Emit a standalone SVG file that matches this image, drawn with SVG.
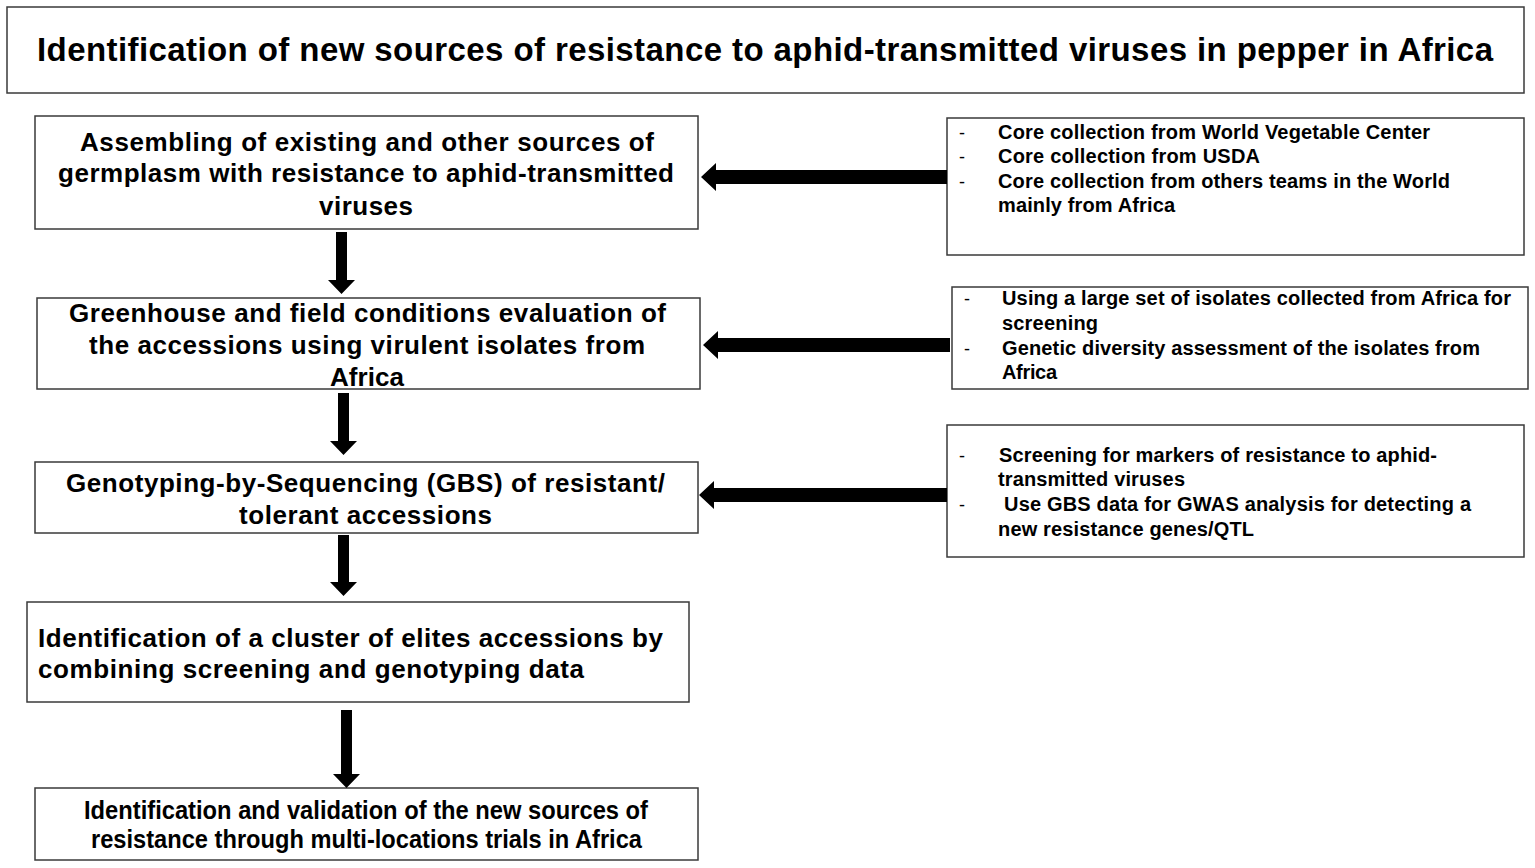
<svg xmlns="http://www.w3.org/2000/svg" width="1535" height="868" viewBox="0 0 1535 868">
<style>
.box{fill:#fff;stroke:#3a3a3a;stroke-width:1.5}
.t{font-family:"Liberation Sans",Arial,sans-serif;font-weight:bold;fill:#000}
.main{font-size:26px}
.side{font-size:20px}
.dash{font-family:"Liberation Sans",Arial,sans-serif;font-size:18px;fill:#000}
.title{font-size:33px}
.arr{fill:#000}
</style>
<rect width="1535" height="868" fill="#fff"/>
<g id="title">
<rect class="box" x="7" y="7" width="1517" height="86"/>
<text class="t title" x="37" y="61" textLength="1456">Identification of new sources of resistance to aphid-transmitted viruses in pepper in Africa</text>
</g>
<g id="step1">
<rect class="box" x="35" y="116" width="663" height="113"/>
<text class="t main" x="80" y="151" textLength="574">Assembling of existing and other sources of</text>
<text class="t main" x="58" y="182" textLength="616">germplasm with  resistance to aphid-transmitted</text>
<text class="t main" x="319" y="215" textLength="94">viruses</text>
</g>
<g id="step2">
<rect class="box" x="37" y="298" width="663" height="91"/>
<text class="t main" x="69" y="322" textLength="597">Greenhouse and field conditions evaluation of</text>
<text class="t main" x="89" y="354" textLength="556">the accessions using virulent isolates from</text>
<text class="t main" x="330" y="386" textLength="74">Africa</text>
</g>
<g id="step3">
<rect class="box" x="35" y="462" width="663" height="71"/>
<text class="t main" x="66" y="492" textLength="599">Genotyping-by-Sequencing (GBS) of resistant/</text>
<text class="t main" x="239" y="524" textLength="253">tolerant accessions</text>
</g>
<g id="step4">
<rect class="box" x="27" y="602" width="662" height="100"/>
<text class="t main" x="38" y="647" textLength="625">Identification  of a cluster of elites accessions by</text>
<text class="t main" x="38" y="678" textLength="546">combining  screening and genotyping  data</text>
</g>
<g id="step5">
<rect class="box" x="35" y="788" width="663" height="72"/>
<text class="t main" x="84" y="819" textLength="564" lengthAdjust="spacingAndGlyphs">Identification and validation of the new sources of</text>
<text class="t main" x="91" y="848" textLength="551" lengthAdjust="spacingAndGlyphs">resistance through multi-locations trials in Africa</text>
</g>
<g id="side1">
<rect class="box" x="947" y="118" width="577" height="137"/>
<text class="dash" x="959" y="139">-</text>
<text class="t side" x="998" y="139" textLength="432">Core collection from World Vegetable Center</text>
<text class="dash" x="959" y="163">-</text>
<text class="t side" x="998" y="163" textLength="262">Core collection from USDA</text>
<text class="dash" x="959" y="188">-</text>
<text class="t side" x="998" y="188" textLength="452">Core collection from others teams in the World</text>
<text class="t side" x="998" y="212" textLength="177">mainly from Africa</text>
</g>
<g id="side2">
<rect class="box" x="952" y="287" width="576" height="102"/>
<text class="dash" x="964" y="305">-</text>
<text class="t side" x="1002" y="305" textLength="509">Using a large set of isolates collected from Africa for</text>
<text class="t side" x="1002" y="330" textLength="96">screening</text>
<text class="dash" x="964" y="355">-</text>
<text class="t side" x="1002" y="355" textLength="478">Genetic diversity assessment of the isolates from</text>
<text class="t side" x="1002" y="379" textLength="55">Africa</text>
</g>
<g id="side3">
<rect class="box" x="947" y="425" width="577" height="132"/>
<text class="dash" x="959" y="462">-</text>
<text class="t side" x="999" y="462" textLength="438">Screening for markers of resistance to aphid-</text>
<text class="t side" x="998" y="486" textLength="187">transmitted viruses</text>
<text class="dash" x="959" y="511">-</text>
<text class="t side" x="1004" y="511" textLength="467">Use GBS data for GWAS analysis for detecting a</text>
<text class="t side" x="998" y="536" textLength="256">new resistance genes/QTL</text>
</g>
<g id="connectors">
<polygon class="arr" points="336,232 347,232 347,280 355,280 341.5,294 328,280 336,280"/>
<polygon class="arr" points="338,393 349,393 349,441 357,441 343.5,455 330,441 338,441"/>
<polygon class="arr" points="338,535 349,535 349,582 357,582 343.5,596 330,582 338,582"/>
<polygon class="arr" points="341,710 352,710 352,774 360,774 346.5,788 333,774 341,774"/>
<polygon class="arr" points="947,170 947,184 716,184 716,191 701,177 716,163 716,170"/>
<polygon class="arr" points="950,338 950,352 718,352 718,359 703,345 718,331 718,338"/>
<polygon class="arr" points="947,488 947,502 714,502 714,509 699,495 714,481 714,488"/>
</g>
</svg>
